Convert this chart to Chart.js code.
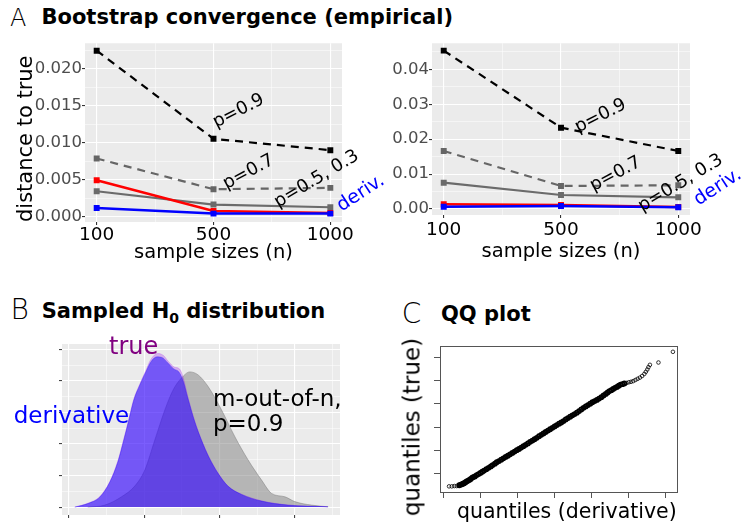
<!DOCTYPE html>
<html><head><meta charset="utf-8">
<script src="https://cdn.jsdelivr.net/npm/chart.js@4/dist/chart.umd.min.js"></script>
<style>
html,body{margin:0;padding:0;background:#fff;width:743px;height:531px;overflow:hidden;font-family:"DejaVu Sans",sans-serif;}
canvas{position:absolute;}
.t{position:absolute;white-space:nowrap;line-height:1;font-family:"DejaVu Sans",sans-serif;}
.lt{font-weight:200;}
.b{font-weight:bold;}
</style></head><body>
<canvas id="a1" width="372" height="235" style="left:0;top:35px"></canvas>
<canvas id="a2" width="371" height="235" style="left:372px;top:35px"></canvas>
<canvas id="b1" width="372" height="201" style="left:0;top:330px"></canvas>
<canvas id="c1" width="371" height="201" style="left:372px;top:330px"></canvas>

<div class="t lt" style="left:10px;top:5.7px;font-size:24px">A</div>
<div class="t b" style="left:41.5px;top:7.2px;font-size:21px">Bootstrap convergence (empirical)</div>
<div class="t lt" style="left:10.6px;top:296.3px;font-size:28px">B</div>
<div class="t b" style="left:41.7px;top:300.5px;font-size:21px">Sampled H<sub style="font-size:14px;line-height:0">0</sub> distribution</div>
<div class="t lt" style="left:401.8px;top:300.3px;font-size:28px">C</div>
<div class="t b" style="left:441px;top:304.2px;font-size:21px">QQ plot</div>

<!-- panel A annotations -->
<div class="t" style="left:238px;top:110px;font-size:18px;transform:translate(-50%,-50%) rotate(-27deg)">p=0.9</div>
<div class="t" style="left:248px;top:171px;font-size:18px;transform:translate(-50%,-50%) rotate(-28deg)">p=0.7</div>
<div class="t" style="left:316px;top:178px;font-size:18px;transform:translate(-50%,-50%) rotate(-31deg)">p=0.5, 0.3</div>
<div class="t" style="left:360px;top:192px;font-size:19px;color:#0000ff;transform:translate(-50%,-50%) rotate(-33deg)">deriv.</div>
<div class="t" style="left:600px;top:115px;font-size:18px;transform:translate(-50%,-50%) rotate(-27deg)">p=0.9</div>
<div class="t" style="left:615px;top:173px;font-size:18px;transform:translate(-50%,-50%) rotate(-28deg)">p=0.7</div>
<div class="t" style="left:680px;top:182px;font-size:18px;transform:translate(-50%,-50%) rotate(-31deg)">p=0.5, 0.3</div>
<div class="t" style="left:717px;top:186px;font-size:19px;color:#0000ff;transform:translate(-50%,-50%) rotate(-33deg)">deriv.</div>

<!-- panel B labels -->
<div class="t" style="left:109px;top:333.7px;font-size:24px;color:#800080">true</div>
<div class="t" style="left:13.7px;top:403.8px;font-size:23px;color:#0000ff">derivative</div>
<div class="t" style="left:213px;top:386.5px;font-size:23px;color:#000">m-out-of-n,</div>
<div class="t" style="left:213px;top:411.5px;font-size:23px;color:#000">p=0.9</div>

<!-- panel C axis labels -->
<div class="t" style="left:457px;top:500.7px;font-size:20.5px">quantiles (derivative)</div>
<div class="t" style="left:411.5px;top:426.5px;font-size:23px;transform:translate(-50%,-50%) rotate(-90deg)">quantiles (true)</div>

<script>
// ---------------- DATA ----------------
const sampleSizes = [100, 500, 1000];

// Panel A, left
const p09Left   = [0.02243, 0.01054, 0.00901];
const p07Left   = [0.00789, 0.00374, 0.00392];
const p05Left   = [0.00347, 0.00167, 0.00131];
const redLeft   = [0.00496, 0.00081, 0.00054];
const derivLeft = [0.00122, 0.00045, 0.00045];
const yTicksLeft = [0, 0.005, 0.010, 0.015, 0.020];
const yTickLabelsLeft = ['0.000', '0.005', '0.010', '0.015', '0.020'];

// Panel A, right
const p09Right   = [0.04536, 0.02330, 0.01662];
const p07Right   = [0.01662, 0.00659, 0.00680];
const p05Right   = [0.00754, 0.00401, 0.00335];
const redRight   = [0.00135, 0.00115, 0.00060];
const derivRight = [0.00066, 0.00086, 0.00049];
const yTicksRight = [0, 0.01, 0.02, 0.03, 0.04];
const yTickLabelsRight = ['0.00', '0.01', '0.02', '0.03', '0.04'];

// Panel B, densities
const derivDensX = [0.08,0.252,0.412,0.545,0.651,0.73,0.797,0.863,0.943,1.023,1.089,1.169,1.248,1.315,1.394,1.461,1.514,1.58,1.673,1.766,1.859,1.979,2.112,2.293,2.559,2.908,3.44];
const derivDensY = [0,0.111,0.317,0.794,1.429,2.127,2.762,3.397,3.873,4.286,4.603,4.762,4.73,4.571,4.381,4.286,4.032,3.46,2.698,2.095,1.587,1.079,0.667,0.402,0.19,0.063,0.01];
const trueDensX  = [0.08,0.25,0.41,0.545,0.65,0.73,0.797,0.863,0.943,1.023,1.089,1.18,1.26,1.32,1.4,1.47,1.52,1.58,1.673,1.766,1.859,1.979,2.112,2.293,2.559,2.908,3.44];
const trueDensY  = [0,0.12,0.33,0.81,1.45,2.15,2.78,3.42,3.9,4.33,4.68,4.87,4.8,4.62,4.44,4.38,4.1,3.5,2.72,2.1,1.6,1.09,0.67,0.41,0.2,0.07,0.01];
const moonDensX  = [0.252,0.478,0.7,0.876,1.009,1.142,1.275,1.385,1.497,1.607,1.717,1.85,2.028,2.205,2.381,2.559,2.692,2.869,3.0,3.223,3.443];
const moonDensY  = [0,0.063,0.327,0.667,1.175,2.127,3.079,3.714,4.095,4.286,4.19,3.82,3.079,2.23,1.492,0.857,0.434,0.327,0.175,0.063,0.01];
const densXTicks = [0, 1, 2, 3];
const densYTicks = [0, 1, 2, 3, 4, 5];

// Panel C, QQ points
const qqX = [0.154,0.227,0.297,0.361,0.43,0.47,0.5,0.53,0.56,0.6,0.63,0.66,0.7,0.74,0.78,0.81,0.85,0.9,0.95,1.0,1.05,1.1,1.16,1.22,1.28,1.33,1.39,1.44,1.5,1.56,1.62,1.68,1.74,1.8,1.86,1.92,1.98,2.04,2.1,2.16,2.22,2.28,2.34,2.4,2.46,2.52,2.58,2.64,2.7,2.76,2.82,2.88,2.94,3.0,3.06,3.12,3.18,3.24,3.3,3.36,3.42,3.48,3.54,3.6,3.66,3.72,3.78,3.84,3.9,3.96,4.02,4.08,4.14,4.2,4.26,4.32,4.38,4.43,4.48,4.53,4.58,4.63,4.68,4.73,4.78,4.83,4.88,4.94,5.0,5.06,5.12,5.18,5.24,5.3,5.36,5.42,5.46,5.5,5.53,5.57,5.8,6.19];
const qqY = [-0.547,-0.547,-0.534,-0.534,-0.5,-0.47,-0.46,-0.43,-0.41,-0.37,-0.33,-0.31,-0.27,-0.23,-0.17,-0.15,-0.12,-0.06,-0.02,0.03,0.08,0.13,0.19,0.25,0.31,0.37,0.43,0.49,0.54,0.6,0.66,0.72,0.77,0.83,0.89,0.95,1.01,1.06,1.12,1.18,1.24,1.3,1.37,1.42,1.48,1.54,1.61,1.67,1.73,1.79,1.85,1.91,1.97,2.03,2.09,2.15,2.2,2.26,2.33,2.39,2.45,2.51,2.56,2.62,2.69,2.76,2.83,2.89,2.95,3.01,3.07,3.12,3.17,3.23,3.29,3.36,3.43,3.49,3.55,3.59,3.64,3.69,3.73,3.78,3.83,3.85,3.88,3.9,3.93,3.95,3.98,4.03,4.08,4.13,4.2,4.29,4.38,4.48,4.58,4.68,4.78,5.24];
const qqXTicks = [0, 1, 2, 3, 4, 5, 6];
const qqYTicks = [0, 1, 2, 3, 4, 5];

// ---------------- DRAWING ----------------
const FONT = '"DejaVu Sans", sans-serif';
const panelBg = {
  id: 'panelBg',
  beforeDraw(chart, args, o) {
    if (!o || !o.color) return;
    const a = chart.chartArea, ctx = chart.ctx;
    ctx.save(); ctx.fillStyle = o.color;
    ctx.fillRect(a.left, a.top, a.right - a.left, a.bottom - a.top);
    ctx.restore();
  }
};
const boxFrame = {
  id: 'boxFrame',
  afterDraw(chart, args, o) {
    if (!o || !o.color) return;
    const a = chart.chartArea, ctx = chart.ctx;
    ctx.save(); ctx.strokeStyle = o.color; ctx.lineWidth = 1;
    ctx.strokeRect(Math.round(a.left) + 0.5, Math.round(a.top) + 0.5, Math.round(a.right - a.left), Math.round(a.bottom - a.top));
    ctx.restore();
  }
};
const isIn = (arr, v) => arr.some(m => Math.abs(m - v) < 1e-9);
const withMinors = (majors, lo, hi) => {
  const step = majors[1] - majors[0];
  const out = majors.slice();
  majors.concat([majors[0] - step]).forEach(m => { const h = m + step / 2; if (h > lo && h < hi) out.push(h); });
  return out.sort((a, b) => a - b);
};

function convPanel(id, vals, yTicks, yLabels, cfg) {
  const xMaj = sampleSizes.map((_, i) => i);
  const series = [
    {name: 'p=0.9', v: vals[0], color: '#000000', dash: true, w: 2.2, order: 5},
    {name: 'p=0.7', v: vals[1], color: '#666666', dash: true, w: 2.2, order: 4},
    {name: 'p=0.5, 0.3', v: vals[2], color: '#6b6b6b', dash: false, w: 2.2, order: 3},
    {name: 'red', v: vals[3], color: '#ff0000', dash: false, w: 2.5, order: 2},
    {name: 'deriv.', v: vals[4], color: '#0000ff', dash: false, w: 2.5, order: 1}
  ];
  const datasets = series.map(s => ({
    label: s.name,
    data: s.v.map((y, i) => ({x: i, y})),
    borderColor: s.color, backgroundColor: s.color,
    borderWidth: s.w, borderDash: s.dash ? [8, 6] : [],
    pointStyle: 'rect', pointRadius: 4.2, pointBorderWidth: 0, pointHoverRadius: 4.2,
    tension: 0, order: s.order
  }));
  const xAll = withMinors(xMaj, cfg.xMin, cfg.xMax);
  const yAll = withMinors(yTicks, cfg.yMin, cfg.yMax);
  const scales = {
    x: {
      type: 'linear', min: cfg.xMin, max: cfg.xMax,
      afterFit: s => { s.height = cfg.xH; },
      afterBuildTicks: s => { s.ticks = xAll.map(v => ({value: v})); },
      ticks: {autoSkip: false, maxRotation: 0, minRotation: 0, padding: cfg.xPad, color: '#000',
        font: {family: FONT, size: 18.5, lineHeight: 1},
        callback: v => isIn(xMaj, v) ? String(sampleSizes[Math.round(v)]) : ''},
      grid: {color: '#ffffff', lineWidth: c => (c.tick && isIn(xMaj, c.tick.value)) ? 1.1 : 0.5,
        tickLength: 3, tickColor: c => (c.tick && isIn(xMaj, c.tick.value)) ? '#333333' : 'rgba(0,0,0,0)'},
      border: {display: false},
      title: {display: true, text: 'sample sizes (n)', color: '#000', font: {family: FONT, size: 19.5, lineHeight: 1},
        padding: {top: 0, bottom: cfg.xTitlePad}}
    },
    y: {
      type: 'linear', min: cfg.yMin, max: cfg.yMax,
      afterFit: s => { s.width = cfg.yW; },
      afterBuildTicks: s => { s.ticks = yAll.map(v => ({value: v})); },
      ticks: {autoSkip: false, padding: 0, color: '#4d4d4d', font: {family: FONT, size: 16.5, lineHeight: 1},
        callback: v => { const i = yTicks.findIndex(m => Math.abs(m - v) < 1e-9); return i >= 0 ? yLabels[i] : ''; }},
      grid: {color: '#ffffff', lineWidth: c => (c.tick && isIn(yTicks, c.tick.value)) ? 1.1 : 0.5,
        tickLength: 3, tickColor: c => (c.tick && isIn(yTicks, c.tick.value)) ? '#333333' : 'rgba(0,0,0,0)'},
      border: {display: false},
      title: cfg.yTitle ? {display: true, text: cfg.yTitle, align: 'start', color: '#000',
        font: {family: FONT, size: 21, lineHeight: 1}, padding: {top: cfg.yTitlePad, bottom: 0}} : {display: false}
    }
  };
  new Chart(document.getElementById(id), {
    type: 'line',
    data: {datasets},
    options: {
      responsive: false, animation: false, devicePixelRatio: 1,
      layout: {padding: cfg.padding},
      plugins: {legend: {display: false}, tooltip: {enabled: false}, panelBg: {color: '#ebebeb'}},
      scales
    },
    plugins: [panelBg]
  });
}

convPanel('a1', [p09Left, p07Left, p05Left, redLeft, derivLeft], yTicksLeft, yTickLabelsLeft, {
  xMin: -0.1, xMax: 2.1, yMin: -0.00068, yMax: 0.02343,
  padding: {left: 0, top: 8, right: 30, bottom: 0}, yW: 85, xH: 48, xPad: 1, xTitlePad: 7,
  yTitle: 'distance to true', yTitlePad: 16
});
convPanel('a2', [p09Right, p07Right, p05Right, redRight, derivRight], yTicksRight, yTickLabelsRight, {
  xMin: -0.1, xMax: 2.1, yMin: -0.00172, yMax: 0.04748,
  padding: {left: 0, top: 8, right: 53, bottom: 0}, yW: 60, xH: 55, xPad: 3, xTitlePad: 8,
  yTitle: null
});

// Panel B
(function () {
  const xAll = withMinors(densXTicks, -0.09, 3.6);
  const yAll = withMinors(densYTicks, -0.25, 5.17);
  const mk = (label, xs, ys, fill, line, order) => ({
    label, data: xs.map((x, i) => ({x, y: ys[i]})),
    backgroundColor: fill, borderColor: line, borderWidth: 0.6, fill: 'origin',
    pointRadius: 0, cubicInterpolationMode: 'monotone', order
  });
  new Chart(document.getElementById('b1'), {
    type: 'line',
    data: {datasets: [
      mk('m-out-of-n, p=0.9', moonDensX, moonDensY, 'rgba(128,128,128,0.5)', 'rgba(110,110,110,0.7)', 3),
      mk('true', trueDensX, trueDensY, 'rgba(160,32,240,0.3)', 'rgba(160,32,240,0.4)', 2),
      mk('derivative', derivDensX, derivDensY, 'rgba(20,0,255,0.5)', 'rgba(20,0,255,0.5)', 1)
    ]},
    options: {
      responsive: false, animation: false, devicePixelRatio: 1,
      layout: {padding: {left: 0, top: 14, right: 32, bottom: 0}},
      plugins: {legend: {display: false}, tooltip: {enabled: false}, panelBg: {color: '#ebebeb'}},
      scales: {
        x: {type: 'linear', min: -0.09, max: 3.6,
          afterFit: s => { s.height = 16; },
          afterBuildTicks: s => { s.ticks = xAll.map(v => ({value: v})); },
          ticks: {display: false},
          grid: {color: '#ffffff', lineWidth: c => (c.tick && isIn(densXTicks, c.tick.value)) ? 1.1 : 0.5,
            tickLength: 3, tickColor: c => (c.tick && isIn(densXTicks, c.tick.value)) ? '#444' : 'rgba(0,0,0,0)'},
          border: {display: false}},
        y: {type: 'linear', min: -0.25, max: 5.17,
          afterFit: s => { s.width = 62; },
          afterBuildTicks: s => { s.ticks = yAll.map(v => ({value: v})); },
          ticks: {display: false},
          grid: {color: '#ffffff', lineWidth: c => (c.tick && isIn(densYTicks, c.tick.value)) ? 1.1 : 0.5,
            tickLength: 3, tickColor: c => (c.tick && isIn(densYTicks, c.tick.value)) ? '#444' : 'rgba(0,0,0,0)'},
          border: {display: false}}
      }
    },
    plugins: [panelBg]
  });
})();

// Panel C
const isTail = i => i < 4 || qqX[i] >= 4.9;
new Chart(document.getElementById('c1'), {
  type: 'scatter',
  data: {datasets: [{
    label: 'QQ', data: qqX.map((x, i) => ({x, y: qqY[i]})),
    pointStyle: 'circle',
    pointRadius: c => isTail(c.dataIndex) ? 1.8 : 2.0,
    pointBorderWidth: c => isTail(c.dataIndex) ? 0.8 : 1.8,
    borderColor: '#000', backgroundColor: 'rgba(0,0,0,0)'
  }]},
  options: {
    responsive: false, animation: false, devicePixelRatio: 1,
    layout: {padding: {left: 0, top: 16, right: 66, bottom: 0}},
    plugins: {legend: {display: false}, tooltip: {enabled: false}, boxFrame: {color: '#555'}},
    scales: {
      x: {type: 'linear', min: -0.09, max: 6.3,
        afterFit: s => { s.height = 39; },
        afterBuildTicks: s => { s.ticks = qqXTicks.map(v => ({value: v})); },
        ticks: {display: false},
        grid: {drawOnChartArea: false, tickLength: 6, tickColor: '#555', lineWidth: 1},
        border: {display: false}},
      y: {type: 'linear', min: -0.79, max: 5.49,
        afterFit: s => { s.width = 68; },
        afterBuildTicks: s => { s.ticks = qqYTicks.map(v => ({value: v})); },
        ticks: {display: false},
        grid: {drawOnChartArea: false, tickLength: 6, tickColor: '#555', lineWidth: 1},
        border: {display: false}}
    }
  },
  plugins: [boxFrame]
});
</script>
</body></html>
